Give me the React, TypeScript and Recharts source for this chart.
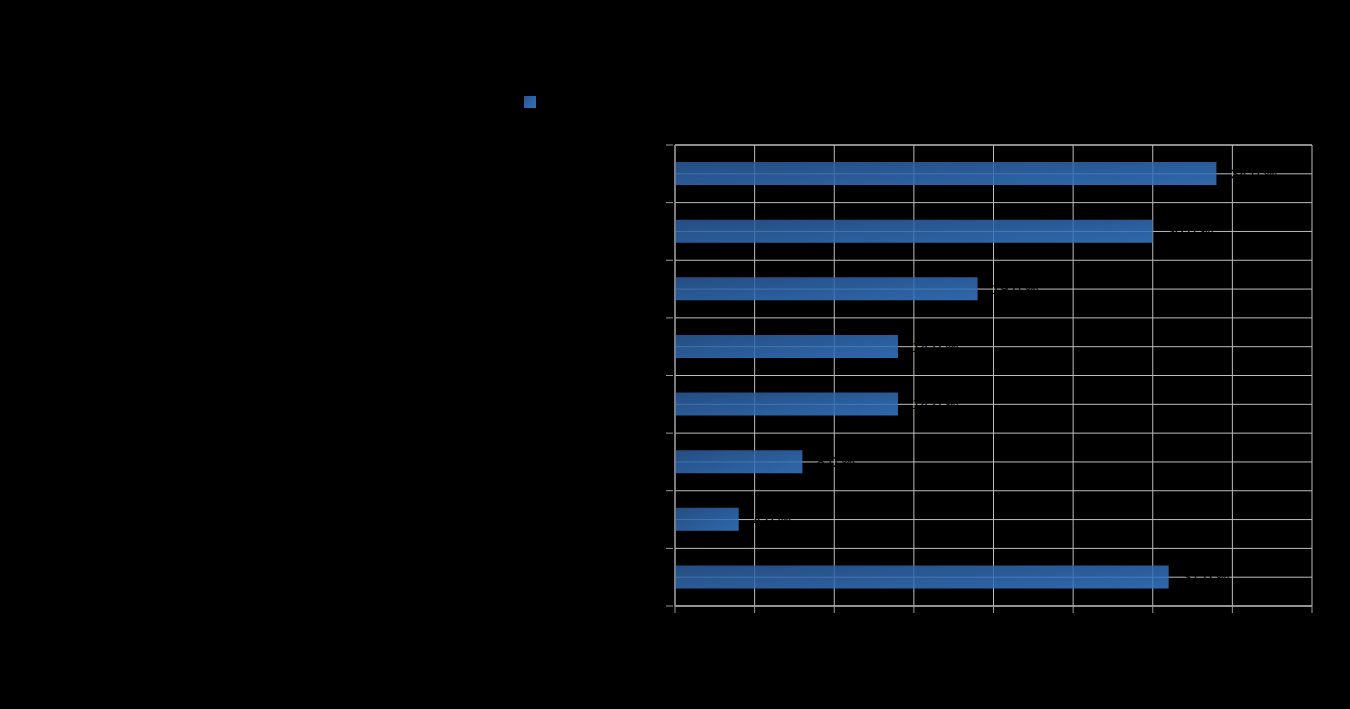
import {
  Bar,
  BarChart,
  CartesianGrid,
  LabelList,
  XAxis,
  YAxis,
} from "recharts";

const kategorien = [
  "Kategorie A",
  "Kategorie B",
  "Kategorie C",
  "Kategorie D",
  "Kategorie E",
  "Kategorie F",
  "Kategorie G",
  "Kategorie H",
];
const anteile = [34, 30, 19, 14, 14, 8, 4, 31];
const wertTicks = [0, 5, 10, 15, 20, 25, 30, 35, 40];
const serienName = "Anteil";
const titel = "Verteilung nach Kategorie";

const GITTER = "#bdbdbd";
const ACHSE = "#9a9a9a";
const SCHRIFT = "'Liberation Sans', Arial, sans-serif";

const BREITE = 1350;
const HOEHE = 709;
const RAND = { top: 145, right: 38, bottom: 73, left: 0 };
const X_ACHSE_HOEHE = 30;
const Y_ACHSE_BREITE = 675;
const BAND = (HOEHE - RAND.top - RAND.bottom - X_ACHSE_HOEHE) / kategorien.length;

const daten = kategorien.map((name, i) => ({ name, wert: anteile[i] }));

function formatProzent(v: unknown) {
  return `${Number(v).toFixed(1).replace(".", ",")} %`;
}

// Kategoriegrenzen statt Bandmitten
function grenzLinien({ offset }: any) {
  const n = kategorien.length;
  return Array.from({ length: n + 1 }, (_, i) => offset.top + (i * offset.height) / n);
}

function KategorieTick(props: any) {
  const { x, y, payload, index } = props;
  const oben = y - BAND / 2;
  return (
    <g>
      <line x1={x} x2={x + 7} y1={oben} y2={oben} stroke={ACHSE} />
      {index === kategorien.length - 1 && (
        <line x1={x} x2={x + 7} y1={y + BAND / 2} y2={y + BAND / 2} stroke={ACHSE} />
      )}
      <text x={x - 4} y={y} dy={5} textAnchor="end" fill="#000" fontSize={14}>
        {payload.value}
      </text>
    </g>
  );
}

export default function App() {
  return (
    <div
      style={{
        position: "absolute",
        left: 0,
        top: 0,
        width: BREITE,
        height: HOEHE,
        background: "#000",
        fontFamily: SCHRIFT,
      }}
    >
      <div
        style={{
          position: "absolute",
          top: 30,
          width: BREITE,
          textAlign: "center",
          fontSize: 20,
          color: "#000",
        }}
      >
        {titel}
      </div>
      <div
        style={{
          position: "absolute",
          left: 524,
          top: 96,
          display: "flex",
          alignItems: "center",
          gap: 6,
          fontSize: 14,
          color: "#000",
        }}
      >
        <span
          style={{
            display: "inline-block",
            width: 12,
            height: 12,
            background: "linear-gradient(135deg, #2a5590, #3272bd)",
          }}
        />
        <span style={{ lineHeight: "12px" }}>{serienName}</span>
      </div>

      <BarChart
        width={BREITE}
        height={HOEHE}
        data={daten}
        layout="vertical"
        margin={RAND}
        style={{ position: "absolute", left: 0, top: 0 }}
      >
        <defs>
          <linearGradient id="balken" x1="0" y1="0" x2="1" y2="1">
            <stop offset="0%" stopColor="#2b5a97" />
            <stop offset="100%" stopColor="#3679c8" />
          </linearGradient>
        </defs>
        <CartesianGrid
          stroke={GITTER}
          vertical={true}
          horizontal={true}
          horizontalCoordinatesGenerator={grenzLinien}
        />
        <CartesianGrid stroke={GITTER} vertical={false} horizontal={true} />
        <XAxis
          type="number"
          domain={[0, 40]}
          ticks={wertTicks}
          interval={0}
          height={X_ACHSE_HOEHE}
          tickSize={7}
          stroke={ACHSE}
          tick={{ fill: "#000", fontSize: 14 }}
        />
        <YAxis
          type="category"
          dataKey="name"
          width={Y_ACHSE_BREITE}
          stroke={ACHSE}
          tickLine={false}
          tickSize={7}
          tick={<KategorieTick />}
        />
        <Bar
          dataKey="wert"
          name={serienName}
          barSize={23}
          fill="url(#balken)"
          fillOpacity={0.86}
          isAnimationActive={false}
        >
          <LabelList
            dataKey="wert"
            position="right"
            offset={14}
            fill="#000"
            fontSize={15}
            formatter={formatProzent}
          />
        </Bar>
      </BarChart>
    </div>
  );
}
